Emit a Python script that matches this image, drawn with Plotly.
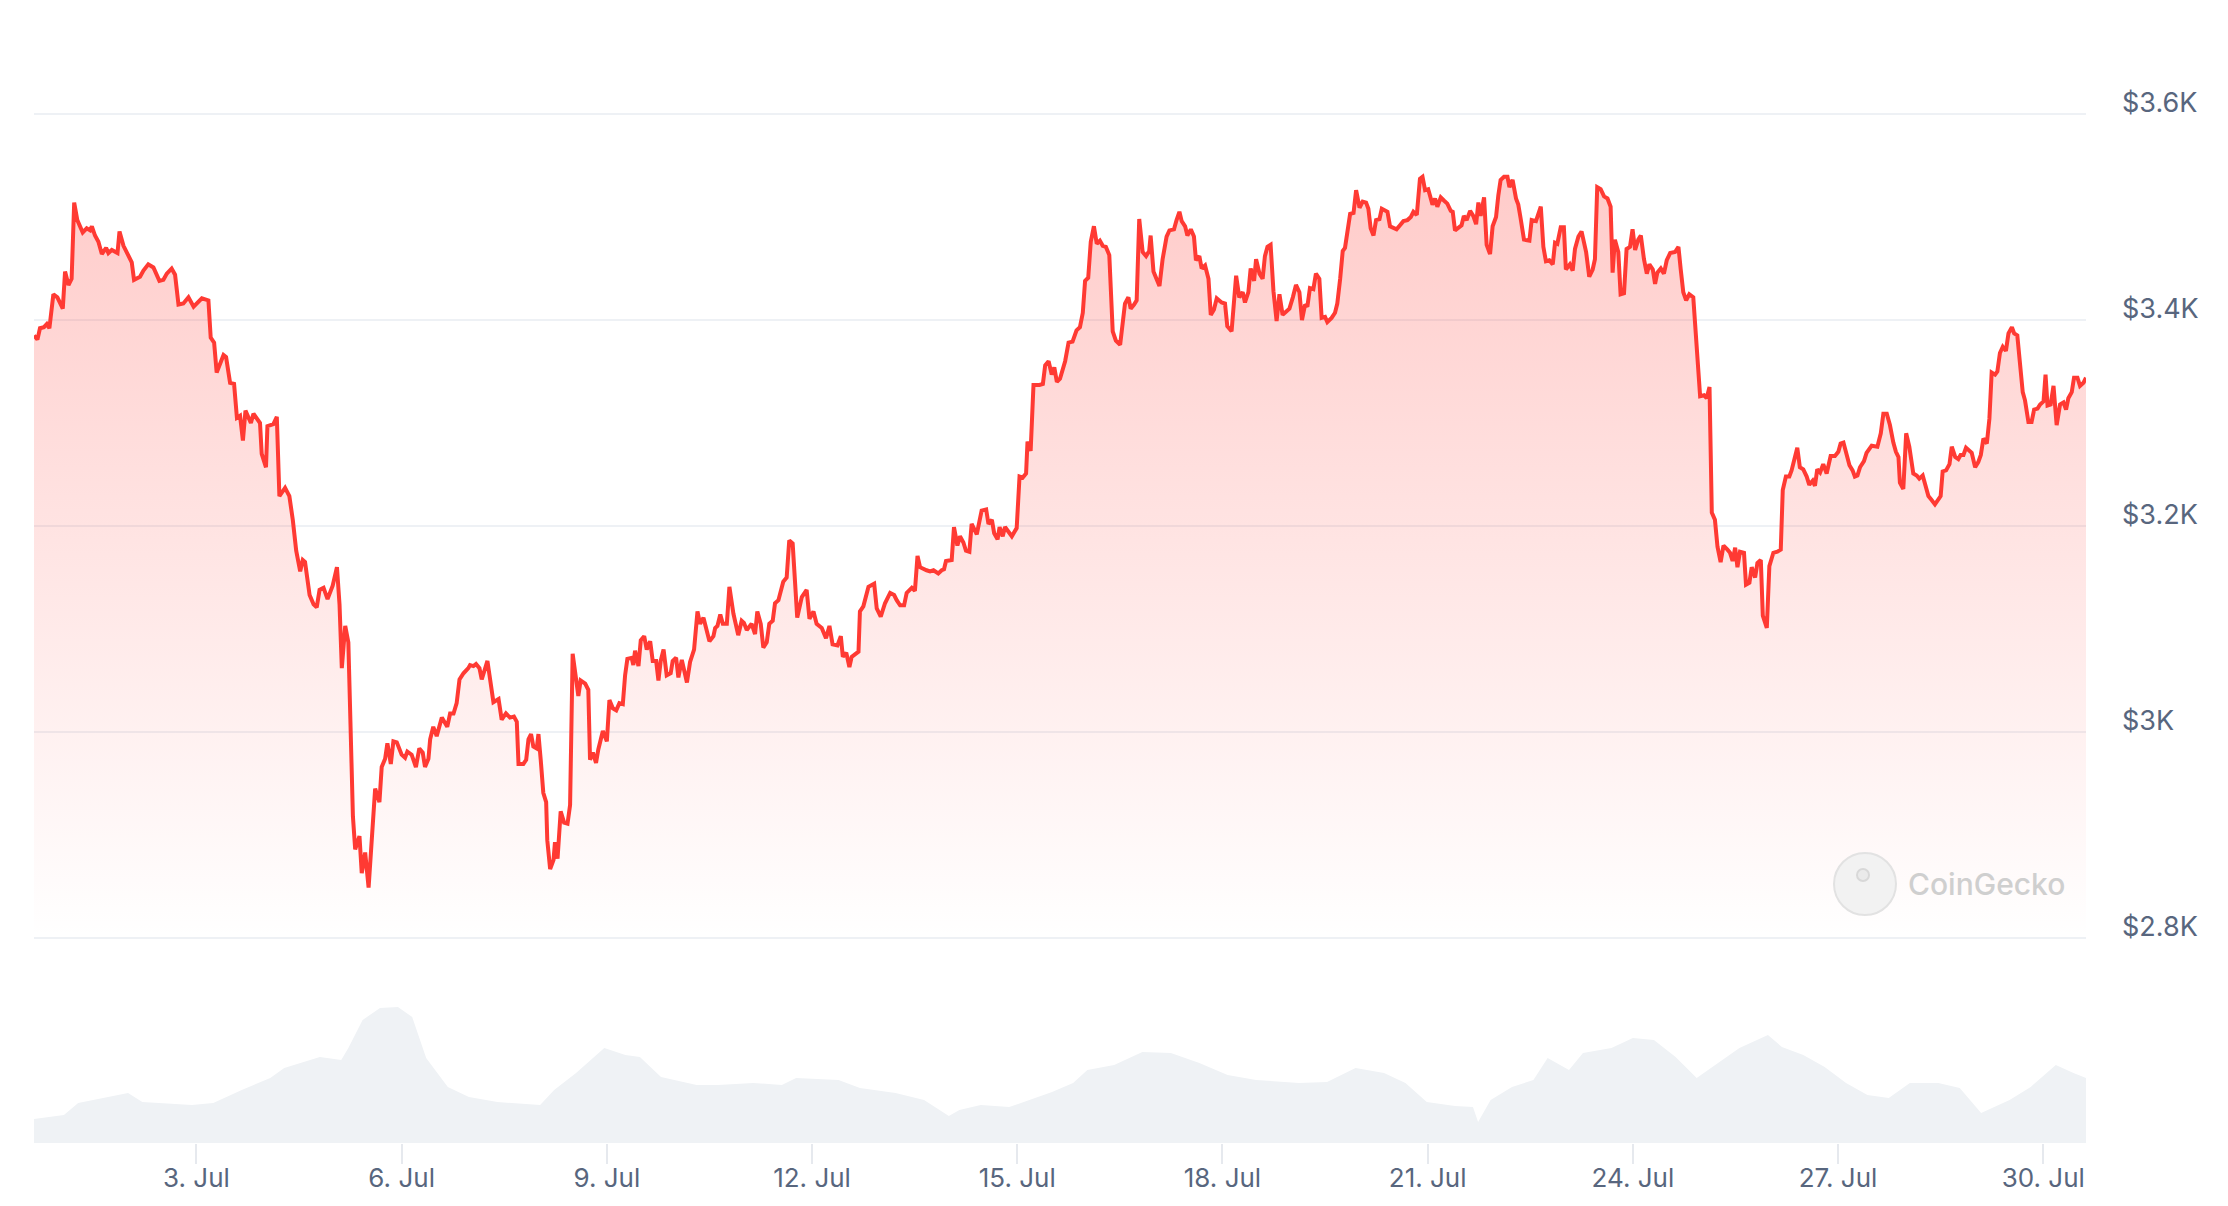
import pandas as pd
import plotly.graph_objects as go

# ---------------- data ----------------
START = "2024-06-30 15:00"
END_HOURS = 720

# hours since START for each price reading
HOURS = [
    0, 1.2, 2.1, 3.5, 4.5, 5.4, 6.8, 8.2, 10.1, 10.9, 12.1, 13.2, 14.1, 15.2, 17.1, 18.5, 19.7, 20.3, 21.4, 22.6,
    23.8, 25.3, 26.1, 27.3, 29.3, 30.0, 31.4, 33.1, 34.3, 35.1, 37.2, 38.4, 40.1, 41.9, 44.0, 45.4, 46.6, 48.3, 49.5, 50.7,
    52.4, 54.2, 56.0, 58.9, 61.2, 62.0, 63.2, 64.1, 66.5, 67.4, 68.8, 70.2, 71.2, 72.3, 73.3, 74.2, 76.1, 77.0, 79.3, 79.9,
    81.4, 81.9, 84.0, 85.2, 86.1, 88.1, 89.6, 90.8, 92.0, 93.4, 94.3, 95.1, 96.7, 98.1, 99.2, 100.2, 101.6, 103.0, 104.8, 106.3,
    107.2, 108.0, 109.2, 110.3, 110.9, 111.9, 112.7, 114.2, 115.0, 116.2, 117.4,
    119.7, 121.2, 122.0, 123.2, 124.0, 125.2, 126.1, 127.3, 129.0, 130.2, 131.0, 132.5, 134.0, 135.2, 136.4, 137.2, 138.4, 139.0, 140.1, 141.3,
    143.1, 145.0, 146.0, 147.2, 148.3, 149.3, 150.7, 152.4, 153.0, 154.2, 155.1, 156.3, 157.1, 159.1, 160.0, 161.2, 163.0, 164.1, 165.6, 167.0,
    168.4, 169.4, 170.0, 171.7, 172.7, 173.5, 174.4, 175.2, 176.4, 177.0, 177.8, 178.7, 179.7, 180.1, 181.1, 182.3, 182.8, 183.7, 184.8, 186.0,
    187.2, 188.1, 189.0, 190.2, 191.0, 191.8, 193.4, 194.5, 195.1, 196.1, 197.2, 198.0, 199.6, 201.0, 201.9, 203.1, 204.3, 205.4, 206.6, 207.4,
    208.2, 209.7, 210.3, 210.9, 212.1, 212.9, 214.1, 215.0, 216.2, 217.1, 218.3, 219.1, 219.9, 220.9, 222.0, 223.4, 224.1, 225.3, 226.1, 227.3,
    229.1, 230.2, 231.6, 232.8, 233.7, 234.9, 237.0, 238.4, 239.0, 239.8, 240.8, 241.7, 243.1, 244.0,
    245.4, 247.1, 248.3, 249.1, 250.1, 251.8, 253.0, 253.8, 255.0, 255.9, 257.1, 258.0, 259.2, 260.0, 261.2, 262.9, 264.1, 265.0, 266.2, 267.8,
    269.4, 271.1, 272.1, 273.5, 274.6, 276.4, 277.9, 279.1, 280.2, 281.9, 283.1, 283.8, 285.0, 286.1, 286.9, 289.3, 289.8, 291.0, 292.8, 294.8,
    295.7, 297.1, 298.6, 300.4, 301.8, 302.7, 303.9, 305.3, 306.2, 308.0, 309.1, 310.0, 310.9, 313.2, 314.4, 315.6, 317.3, 318.5, 319.3, 320.0,
    322.0, 322.8, 324.0, 324.9, 326.1, 327.0, 328.2, 329.0, 330.8, 332.5, 334.1, 334.9, 336.1, 336.9, 338.1, 338.8, 339.9, 340.7, 341.9, 343.1,
    344.8, 345.8, 346.9, 348.1, 348.6, 349.7, 350.7, 352.8, 354.0, 354.8, 356.0, 357.1, 358.0, 358.9, 360.0, 361.8, 363.0,
    364.4, 365.8, 367.0, 368.0, 368.8, 369.9, 370.8, 371.9, 372.9, 374.0, 375.0, 376.1, 377.3, 378.5, 379.6, 381.1, 382.0, 382.8, 384.0, 384.8,
    386.0, 386.9, 387.8, 389.0, 390.2, 391.3, 391.8, 392.8, 393.7, 394.9, 396.0, 397.4, 398.4, 400.0, 400.9, 401.9, 402.7, 403.9, 404.7, 405.9,
    407.0, 407.7, 408.9, 409.7, 410.9, 412.1, 412.9, 414.0, 415.0, 416.7, 417.9, 418.7, 420.2, 421.8, 422.9, 424.1, 424.9, 426.1, 426.9, 428.1,
    428.8, 430.0, 431.1, 431.9, 432.8, 433.9, 434.9, 436.0, 437.0, 438.1, 439.3, 440.5, 441.7, 442.8, 444.0, 444.9, 446.0, 446.8, 447.7, 448.9,
    449.8, 451.0, 451.8, 453.0, 453.8, 455.3, 456.5, 457.3, 458.3, 459.2, 460.0, 460.8, 461.8, 463.0, 463.9, 465.1, 466.2, 467.4, 468.2, 469.0,
    470.0, 470.9, 472.1, 472.9, 474.9, 475.8, 478.1, 479.3, 480.5, 481.9, 483.1, 484.0, 485.2,
    486.3, 487.2, 488.1, 489.2, 490.7, 491.6, 492.4, 493.6, 494.7, 495.9, 497.1, 497.8, 498.6, 499.8, 500.9, 501.7, 502.7, 503.9, 505.0, 506.0,
    506.8, 507.6, 508.8, 509.7, 510.9, 511.8, 513.0, 513.8, 514.6, 515.8, 517.0, 517.7, 518.8, 520.0, 520.8, 521.6, 522.8, 524.7, 525.5, 527.0,
    528.7, 529.6, 530.5, 531.7, 532.9, 533.7, 534.5, 535.7, 536.8, 537.5, 538.9, 539.9, 540.7, 541.9, 543.0, 544.6, 545.7, 546.9, 547.7, 548.5,
    549.7, 550.9, 552.1, 553.2, 553.9, 554.7, 555.9, 556.7, 557.9, 558.8, 560.0, 560.9, 561.8, 562.9, 563.8, 564.9, 565.9, 566.8, 568.0, 568.8,
    569.6, 570.8, 571.9, 572.9, 574.1, 575.8, 577.0, 577.8, 578.7, 579.7, 580.8, 582.2, 583.4, 584.6, 586.0, 586.9, 587.9, 588.7, 589.8, 590.7,
    591.8, 592.8, 594.2, 595.1, 596.0, 596.9, 597.7, 598.6, 600.0, 600.7, 601.9, 602.7, 603.9, 604.7, 605.9, 606.6, 608.0, 608.9, 610.3, 611.7,
    612.9,
    613.6, 614.7, 615.9, 616.7, 617.5, 618.7, 619.6, 620.8, 622.0, 622.9, 624.1, 624.9, 625.7, 626.7, 627.8, 629.0, 630.4, 631.9, 633.1, 633.9,
    634.9, 635.8, 637.0, 638.1, 638.9, 639.8, 640.7, 642.1, 643.0, 644.8, 646.8, 648.0, 648.9, 650.1, 651.2, 652.4, 653.3, 654.2, 654.7, 655.9,
    656.9, 658.0, 659.4, 660.6, 661.5, 662.7, 663.5, 664.7, 665.9, 667.0, 669.0, 669.7, 670.9, 672.1, 672.9, 674.1, 675.2, 676.0, 677.0, 677.9,
    679.9, 681.1, 682.2, 683.1, 684.0, 685.2, 686.1, 686.9, 688.1, 688.9, 689.8, 690.8, 691.9, 692.8, 694.0, 694.8, 695.9, 696.9, 697.8, 698.6,
    699.8, 700.9, 701.8, 703.0, 703.9, 705.1, 705.8, 706.5, 707.6, 708.6, 709.7, 710.9, 712.1, 713.0, 713.8, 715.0, 715.8, 717.0, 717.9, 719.1,
    720.0,
]

# ETH price in USD at each reading
PRICE = [
    3385, 3381, 3392, 3393, 3396, 3392, 3425, 3422, 3411, 3447, 3434, 3440, 3514, 3497, 3485, 3489, 3487, 3491, 3482, 3476,
    3464, 3470, 3465, 3468, 3465, 3486, 3472, 3463, 3456, 3439, 3442, 3448, 3454, 3451, 3438, 3439, 3445, 3450, 3444, 3415,
    3416, 3422, 3413, 3421, 3419, 3383, 3378, 3349, 3366, 3364, 3339, 3338, 3305, 3307, 3283, 3312, 3300, 3309, 3300, 3270,
    3257, 3297, 3299, 3306, 3229, 3237, 3229, 3206, 3176, 3156, 3167, 3165, 3133, 3124, 3121, 3138, 3140, 3129, 3142, 3160,
    3124, 3062, 3103, 3087, 3009, 2918, 2886, 2899, 2863, 2883, 2849,
    2945, 2932, 2966, 2974, 2989, 2969, 2991, 2990, 2978, 2975, 2981, 2978, 2966, 2984, 2980, 2966, 2974, 2993, 3005, 2996,
    3014, 3005, 3018, 3018, 3028, 3051, 3057, 3062, 3065, 3064, 3066, 3062, 3051, 3069, 3051, 3029, 3032, 3012, 3018, 3014,
    3015, 3010, 2969, 2969, 2973, 2993, 2998, 2986, 2984, 2998, 2973, 2941, 2932, 2895, 2867, 2876, 2893, 2877, 2923, 2912,
    2911, 2929, 3076, 3051, 3035, 3050, 3047, 3041, 2973, 2980, 2970, 2983, 3001, 2991, 3031, 3023, 3021, 3028, 3027, 3055,
    3071, 3072, 3065, 3079, 3064, 3089, 3093, 3080, 3088, 3069, 3069, 3050, 3069, 3080, 3055, 3057, 3069, 3072, 3053, 3070,
    3048, 3068, 3080, 3117, 3105, 3111, 3088, 3093, 3101, 3103, 3114, 3105, 3105, 3141,
    3115, 3094, 3108, 3106, 3099, 3105, 3095, 3117, 3105, 3082, 3087, 3105, 3108, 3125, 3128, 3146, 3150, 3186, 3183, 3111,
    3131, 3138, 3110, 3117, 3105, 3101, 3091, 3103, 3085, 3084, 3093, 3073, 3077, 3063, 3073, 3078, 3117, 3122, 3141, 3144,
    3120, 3112, 3125, 3135, 3133, 3128, 3123, 3123, 3135, 3140, 3137, 3171, 3160, 3157, 3156, 3157, 3154, 3157, 3158, 3166,
    3167, 3199, 3181, 3190, 3184, 3176, 3175, 3202, 3192, 3215, 3216, 3202, 3206, 3193, 3187, 3199, 3190, 3199, 3195, 3190,
    3198, 3248, 3247, 3251, 3282, 3273, 3337, 3337, 3338, 3356, 3360, 3347, 3354, 3340, 3343, 3360, 3378,
    3379, 3390, 3393, 3407, 3438, 3441, 3476, 3491, 3474, 3477, 3472, 3471, 3463, 3389, 3380, 3376, 3401, 3416, 3422, 3411,
    3415, 3419, 3498, 3466, 3462, 3467, 3482, 3447, 3441, 3433, 3459, 3481, 3487, 3488, 3497, 3505, 3496, 3491, 3482, 3488,
    3481, 3458, 3462, 3450, 3453, 3440, 3405, 3410, 3421, 3417, 3416, 3394, 3389, 3443, 3422, 3427, 3417, 3427, 3450, 3438,
    3459, 3445, 3440, 3462, 3471, 3473, 3428, 3399, 3425, 3405, 3408, 3411, 3422, 3434, 3427, 3400, 3415, 3413, 3431, 3430,
    3445, 3440, 3402, 3403, 3398, 3402, 3407, 3416, 3440, 3467, 3470, 3487, 3503, 3504, 3526, 3509, 3515, 3514, 3508, 3489,
    3482, 3497, 3498, 3508, 3505, 3491, 3488, 3492, 3496, 3497, 3500, 3505, 3502,
    3537, 3539, 3526, 3527, 3512, 3518, 3510, 3519, 3516, 3513, 3506, 3505, 3487, 3490, 3492, 3501, 3497, 3506, 3501, 3493,
    3514, 3501, 3519, 3473, 3464, 3491, 3500, 3521, 3536, 3539, 3539, 3529, 3536, 3518, 3512, 3499, 3478, 3477, 3497, 3496,
    3510, 3471, 3457, 3458, 3454, 3475, 3474, 3490, 3490, 3449, 3454, 3448, 3469, 3481, 3486, 3466, 3442, 3449, 3459, 3529,
    3527, 3520, 3518, 3510, 3446, 3478, 3466, 3425, 3426, 3469, 3471, 3488, 3468, 3478, 3482, 3459, 3445, 3454, 3449, 3435,
    3446, 3450, 3445, 3458, 3465, 3466, 3471, 3449, 3427, 3419, 3425, 3422, 3372, 3326, 3327, 3324, 3335, 3213, 3206, 3180,
    3165, 3181, 3177, 3174, 3166, 3179, 3160, 3175, 3174, 3143, 3145, 3160, 3150, 3164, 3167, 3113, 3101, 3161, 3174, 3175,
    3177,
    3235, 3248, 3248, 3254, 3264, 3276, 3257, 3255, 3248, 3240, 3244, 3239, 3255, 3252, 3260, 3251, 3268, 3268, 3272, 3280,
    3281, 3270, 3259, 3254, 3248, 3249, 3257, 3263, 3271, 3278, 3277, 3290, 3309, 3309, 3298, 3281, 3272, 3267, 3242, 3236,
    3290, 3277, 3251, 3249, 3246, 3249, 3242, 3229, 3225, 3221, 3229, 3253, 3254, 3260, 3277, 3267, 3265, 3269, 3269, 3276,
    3271, 3257, 3262, 3269, 3285, 3280, 3304, 3349, 3347, 3350, 3368, 3374, 3370, 3387, 3393, 3387, 3385, 3358, 3330, 3322,
    3301, 3301, 3313, 3314, 3318, 3321, 3347, 3317, 3318, 3336, 3298, 3318, 3320, 3313, 3324, 3330, 3344, 3344, 3336, 3339,
    3344,
]

# hourly trading volume (USD millions), read at these hours
VOL_HOURS = [
    0, 10.5, 15.5, 33, 38, 55.4, 62.9, 72.9, 82.9, 87.8, 100.3, 107.8, 110.3, 115.3, 121.4,
    127.7, 132.7, 137.6, 145.2, 152.6, 162.6, 177.6, 182.5, 190.2, 200.1, 207.5, 212.6, 220.0, 232.5, 240,
    252.4, 262.4, 267.4, 282.3, 289.8, 302.3, 312.3, 321, 324.7, 332.2, 342.2, 347.2, 357.2, 364.6, 369.6,
    379, 388.9, 398.9, 408.9, 418.8, 428.8, 443.8, 453.7, 463.7, 473.7, 481.2, 488.7, 498.6, 504.9, 506.7,
    511.1, 518.6, 526.1, 531.1, 538.6, 543.5, 553.5, 561.0, 568.4, 576.0, 583.4, 590.9, 598.4, 608.4, 613.3,
    620.8, 628.3, 635.8, 643.3, 650.8, 658.2, 668.2, 675.7, 683.2, 693.2, 700.6, 709.4, 715.6, 720,
]
VOLUME = [
    240, 280, 400, 500, 410, 380, 400, 530, 650, 750, 860, 830, 950, 1230, 1350,
    1360, 1260, 850, 560, 460, 410, 380, 530, 700, 950, 880, 860, 660, 580, 580,
    600, 580, 650, 630, 550, 500, 430, 270, 330, 380, 360, 410, 510, 600, 730,
    780, 910, 900, 800, 680, 630, 600, 610, 750, 700, 600, 410, 370, 360, 210,
    430, 560, 630, 850, 730, 900, 950, 1050, 1030, 860, 650, 800, 950, 1080, 960,
    880, 760, 600, 480, 450, 600, 600, 550, 300, 430, 560, 780, 700, 650,
]

Y_TICKS = [2800, 3000, 3200, 3400, 3600]
Y_TICK_TEXT = ["$2.8K", "$3K", "$3.2K", "$3.4K", "$3.6K"]

assert len(HOURS) == len(PRICE)
assert len(VOL_HOURS) == len(VOLUME)

# ---------------- figure ----------------
W, H = 2228, 1206
start = pd.Timestamp(START)
times = start + pd.to_timedelta(HOURS, unit="h")
vtimes = start + pd.to_timedelta(VOL_HOURS, unit="h")
end = start + pd.Timedelta(hours=END_HOURS)

LABEL = "#58667e"
GRID = "#eef1f5"
RED = "#ff3a33"
FONT = "Inter"

fig = go.Figure()

fig.add_trace(go.Scatter(
    x=vtimes, y=VOLUME, yaxis="y2", mode="lines",
    line=dict(width=0, color="#eff2f5"), fill="tozeroy", fillcolor="#eff2f5",
    hoverinfo="skip",
))

fig.add_trace(go.Scatter(
    x=times, y=PRICE, mode="lines",
    line=dict(color=RED, width=4),
    fill="tozeroy",
    fillgradient=dict(
        type="vertical",
        colorscale=[[0, "rgba(255,58,51,0.0)"], [1, "rgba(255,58,51,0.27)"]],
        start=2800, stop=3560,
    ),
    hoverinfo="skip",
))

def py(px):
    return 1 - px / H

PX_PER_USD = 206 / 200
fig.update_layout(
    width=W, height=H,
    margin=dict(l=34, r=142, t=0, b=0, pad=0, autoexpand=False),
    paper_bgcolor="white", plot_bgcolor="white",
    showlegend=False, hovermode=False,
    font=dict(family=FONT, color=LABEL, size=24),
    xaxis=dict(
        type="date", range=[start, end], anchor="y2", automargin=False,
        showgrid=False, zeroline=False, showline=False,
        ticks="outside", ticklen=20, tickwidth=2, tickcolor="#e6e9ee",
        tick0="2024-07-03", dtick=3 * 86400000, tickformat="%-d. %b",
        ticklabelstandoff=-8,
        tickfont=dict(family=FONT, size=26, color=LABEL),
    ),
    yaxis=dict(
        domain=[py(938 + 3 * PX_PER_USD), py(114 - 20 * PX_PER_USD)], range=[2797, 3620],
        anchor="x", side="right", automargin=False,
        tickvals=Y_TICKS, ticktext=Y_TICK_TEXT,
        showgrid=True, gridcolor=GRID, gridwidth=2, zeroline=False, showline=False,
        ticks="", ticklabelstandoff=35, ticklabelshift=-11,
        tickfont=dict(family=FONT, size=27, color=LABEL),
    ),
    yaxis2=dict(
        domain=[py(1143), py(993)], range=[0, 1500], anchor="x",
        visible=False, automargin=False,
    ),
)

# CoinGecko watermark
fig.add_shape(type="circle", xref="paper", yref="paper",
              x0=(1834 - 34) / 2052, x1=(1896 - 34) / 2052, y0=py(915), y1=py(853),
              line=dict(color="#e2e2e2", width=2), fillcolor="#f2f2f2", layer="above")
fig.add_shape(type="circle", xref="paper", yref="paper",
              x0=(1857 - 34) / 2052, x1=(1869 - 34) / 2052, y0=py(881), y1=py(869),
              line=dict(color="#d8d8d8", width=2), fillcolor="#eaeaea", layer="above")
fig.add_annotation(text="CoinGecko", xref="paper", yref="paper",
                   x=(1986 - 34) / 2052, y=py(884), xanchor="center", yanchor="middle",
                   showarrow=False, font=dict(family=FONT, size=30, color="#cfcfcf", weight=500))

fig.write_html("out.html", config={"displayModeBar": False},
               post_script="document.body.style.margin='0';")
